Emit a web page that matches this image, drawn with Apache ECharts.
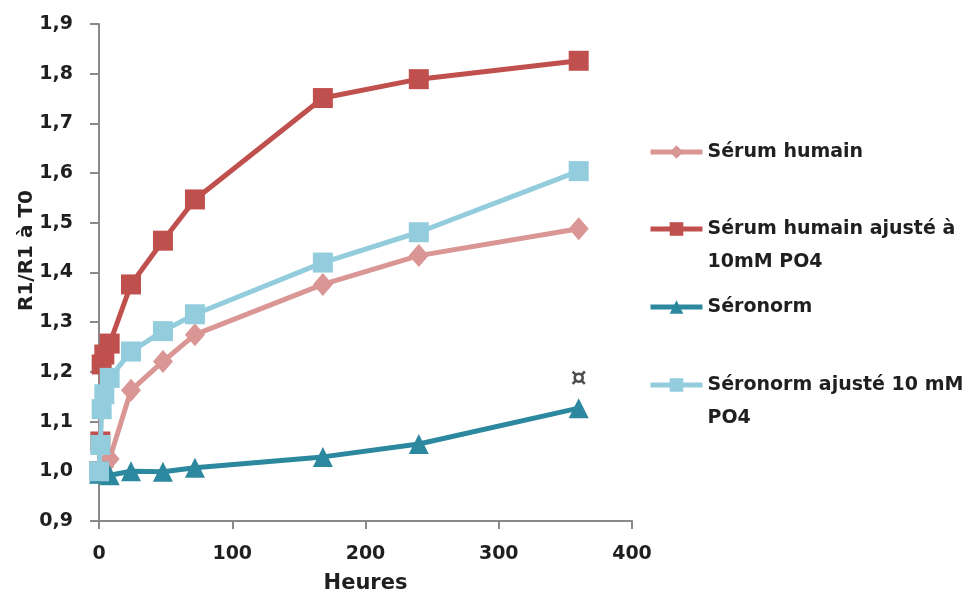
<!DOCTYPE html>
<html>
<head>
<meta charset="utf-8">
<script src="https://cdn.jsdelivr.net/npm/echarts@6/dist/echarts.min.js"></script>
<style>html,body{margin:0;padding:0;background:#fff}#c{width:962px;height:594px}</style>
</head>
<body>
<div id="c"></div>
<script>
// Data
const seriesNames = ['Sérum humain', 'Sérum humain ajusté à\n10mM PO4', 'Séronorm', 'Séronorm ajusté 10 mM\nPO4'];
const hoursSerum = [0, 1, 2, 4, 8, 24, 48, 72, 168, 240, 360];
const serumHumain = [1.0, 1.0, 1.0, 1.01, 1.025, 1.163, 1.221, 1.275, 1.376, 1.434, 1.488];
const hoursSerumAdj = [0, 1, 2, 4, 8, 24, 48, 72, 168, 240, 360];
const serumHumainAjuste = [1.0, 1.06, 1.215, 1.235, 1.257, 1.376, 1.464, 1.547, 1.751, 1.789, 1.826];
const hoursSeronorm = [0, 8, 24, 48, 72, 168, 240, 360];
const seronorm = [0.995, 0.992, 1.0, 0.999, 1.007, 1.029, 1.055, 1.127];
const hoursSeronormAdj = [0, 1, 2, 4, 8, 24, 48, 72, 168, 240, 360];
const seronormAjuste = [1.0, 1.053, 1.125, 1.155, 1.188, 1.241, 1.282, 1.316, 1.42, 1.481, 1.604];
const annotation = { hour: 360, value: 1.185, text: '¤' };
const yTicks = { min: 0.9, max: 1.9, step: 0.1 };
const xTicks = { min: 0, max: 400, step: 100 };

const pair = (xs, ys) => xs.map((x, i) => [x, ys[i]]);
const FONT = 'DejaVu Sans';
const TXT = '#1f1f1f';
const colors = ['#D99694', '#C0504D', '#2C889E', '#93CDDD'];
const symbols = ['diamond', 'rect', 'triangle', 'rect'];
const datas = [pair(hoursSerum, serumHumain), pair(hoursSerumAdj, serumHumainAjuste), pair(hoursSeronorm, seronorm), pair(hoursSeronormAdj, seronormAjuste)];
const legendIconY = [152, 229, 307, 385];
const LH = 33;

const chart = echarts.init(document.getElementById('c'), null, { renderer: 'canvas' });
const series = seriesNames.map((n, i) => ({
  name: n,
  type: 'line',
  data: datas[i],
  symbol: symbols[i],
  symbolSize: i === 0 ? [20, 23] : 20,
  showAllSymbol: true,
  lineStyle: { color: colors[i], width: 5 },
  itemStyle: { color: colors[i] },
  emphasis: { disabled: true },
  animation: false,
  z: 2 + i
}));
series.push({
  name: 'annot',
  type: 'scatter',
  data: [[annotation.hour, annotation.value]],
  symbolSize: 1,
  itemStyle: { color: 'rgba(0,0,0,0)' },
  label: { show: true, position: 'inside', formatter: annotation.text, fontFamily: FONT, fontWeight: 'bold', fontSize: 25, color: TXT },
  animation: false,
  z: 10
});

const legends = seriesNames.map((n, i) => {
  const multi = n.indexOf('\n') >= 0;
  return {
    data: [n],
    left: 648,
    top: legendIconY[i] - (multi ? 1.5 * LH : 0.5 * LH),
    padding: 0,
    orient: 'vertical',
    itemWidth: 52,
    itemHeight: 17,
    selectedMode: false,
    lineStyle: { width: 5 },
    formatter: name => (name.indexOf('\n') >= 0 ? '\n' + name : name),
    textStyle: { fontFamily: FONT, fontWeight: 'bold', fontSize: 19, color: TXT, lineHeight: LH }
  };
});

chart.setOption({
  backgroundColor: '#fff',
  animation: false,
  grid: { left: 99, top: 24, right: 330, bottom: 73, containLabel: false, outerBoundsMode: 'none' },
  legend: legends,
  xAxis: {
    type: 'value', min: xTicks.min, max: xTicks.max, interval: xTicks.step,
    name: 'Heures', nameLocation: 'middle', nameGap: 52, nameMoveOverlap: false,
    nameTextStyle: { fontFamily: FONT, fontWeight: 'bold', fontSize: 21, color: TXT },
    axisLine: { show: true, onZero: false, lineStyle: { color: '#898989', width: 2 } },
    axisTick: { show: true, length: 8, lineStyle: { color: '#898989', width: 2 } },
    axisLabel: { margin: 24, fontFamily: FONT, fontWeight: 'bold', fontSize: 19, color: TXT },
    splitLine: { show: false }
  },
  yAxis: {
    type: 'value', min: yTicks.min, max: yTicks.max, interval: yTicks.step,
    name: 'R1/R1 à T0', nameLocation: 'middle', nameGap: 62, nameRotate: 90, nameMoveOverlap: false,
    nameTextStyle: { fontFamily: FONT, fontWeight: 'bold', fontSize: 20, color: TXT, padding: [0, 0, 0, 44] },
    axisLine: { show: true, onZero: false, lineStyle: { color: '#898989', width: 2 } },
    axisTick: { show: true, length: 9, lineStyle: { color: '#898989', width: 2 } },
    axisLabel: { margin: 26, fontFamily: FONT, fontWeight: 'bold', fontSize: 19, color: TXT,
      formatter: v => v.toFixed(1).replace('.', ',') },
    splitLine: { show: false }
  },
  series: series
});
</script>
</body>
</html>
